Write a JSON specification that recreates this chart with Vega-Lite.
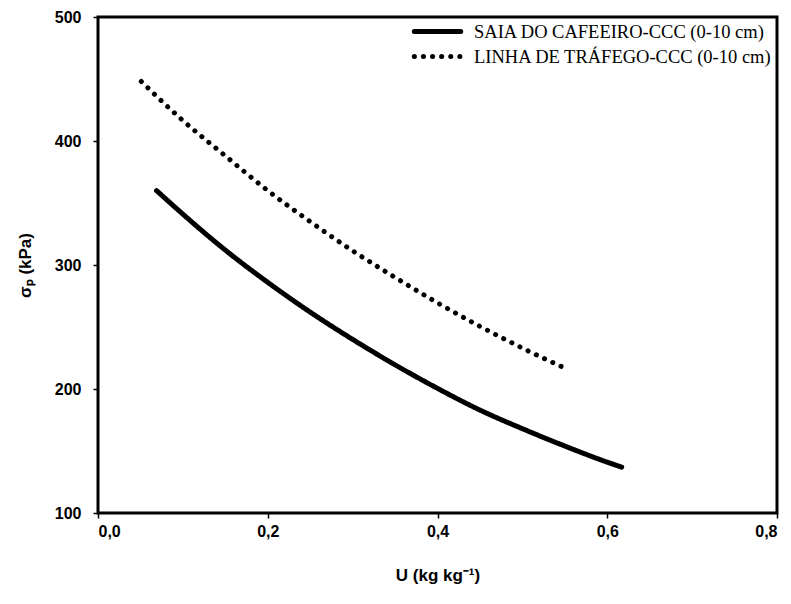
{
  "$schema": "https://vega.github.io/schema/vega-lite/v6.json",
  "width": 679,
  "height": 496,
  "autosize": {"type": "none"},
  "padding": {"left": 98, "top": 17, "right": 14, "bottom": 91},
  "background": "white",
  "config": {
    "locale": {"number": {"decimal": ",", "thousands": ".", "grouping": [3], "currency": ["", ""]}},
    "view": {"stroke": "black", "strokeWidth": 3},
    "axis": {
      "grid": false,
      "domain": false,
      "tickColor": "black",
      "tickSize": 5,
      "tickWidth": 1.5,
      "labelFont": "Liberation Sans",
      "labelFontWeight": "bold",
      "labelFontSize": 16,
      "labelColor": "black",
      "titleFont": "Liberation Sans",
      "titleFontWeight": "bold",
      "titleFontSize": 17,
      "titleColor": "black"
    }
  },
  "data": {
    "values": [
      {"serie": "SAIA DO CAFEEIRO-CCC (0-10 cm)", "U": 0.069, "sigma": 360},
      {"serie": "SAIA DO CAFEEIRO-CCC (0-10 cm)", "U": 0.10, "sigma": 341},
      {"serie": "SAIA DO CAFEEIRO-CCC (0-10 cm)", "U": 0.15, "sigma": 312},
      {"serie": "SAIA DO CAFEEIRO-CCC (0-10 cm)", "U": 0.20, "sigma": 286},
      {"serie": "SAIA DO CAFEEIRO-CCC (0-10 cm)", "U": 0.25, "sigma": 262},
      {"serie": "SAIA DO CAFEEIRO-CCC (0-10 cm)", "U": 0.30, "sigma": 240},
      {"serie": "SAIA DO CAFEEIRO-CCC (0-10 cm)", "U": 0.35, "sigma": 219.5},
      {"serie": "SAIA DO CAFEEIRO-CCC (0-10 cm)", "U": 0.40, "sigma": 200.5},
      {"serie": "SAIA DO CAFEEIRO-CCC (0-10 cm)", "U": 0.45, "sigma": 183},
      {"serie": "SAIA DO CAFEEIRO-CCC (0-10 cm)", "U": 0.50, "sigma": 168},
      {"serie": "SAIA DO CAFEEIRO-CCC (0-10 cm)", "U": 0.55, "sigma": 154},
      {"serie": "SAIA DO CAFEEIRO-CCC (0-10 cm)", "U": 0.60, "sigma": 141},
      {"serie": "SAIA DO CAFEEIRO-CCC (0-10 cm)", "U": 0.617, "sigma": 137},
      {"serie": "LINHA DE TRÁFEGO-CCC (0-10 cm)", "U": 0.051, "sigma": 448},
      {"serie": "LINHA DE TRÁFEGO-CCC (0-10 cm)", "U": 0.10, "sigma": 416.5},
      {"serie": "LINHA DE TRÁFEGO-CCC (0-10 cm)", "U": 0.15, "sigma": 388},
      {"serie": "LINHA DE TRÁFEGO-CCC (0-10 cm)", "U": 0.20, "sigma": 360},
      {"serie": "LINHA DE TRÁFEGO-CCC (0-10 cm)", "U": 0.25, "sigma": 335},
      {"serie": "LINHA DE TRÁFEGO-CCC (0-10 cm)", "U": 0.30, "sigma": 311.5},
      {"serie": "LINHA DE TRÁFEGO-CCC (0-10 cm)", "U": 0.35, "sigma": 290},
      {"serie": "LINHA DE TRÁFEGO-CCC (0-10 cm)", "U": 0.40, "sigma": 269.5},
      {"serie": "LINHA DE TRÁFEGO-CCC (0-10 cm)", "U": 0.45, "sigma": 250.5},
      {"serie": "LINHA DE TRÁFEGO-CCC (0-10 cm)", "U": 0.50, "sigma": 233},
      {"serie": "LINHA DE TRÁFEGO-CCC (0-10 cm)", "U": 0.548, "sigma": 217.5}
    ]
  },
  "mark": {"type": "line", "color": "black", "strokeWidth": 5, "strokeCap": "round", "interpolate": "monotone"},
  "encoding": {
    "x": {
      "field": "U",
      "type": "quantitative",
      "scale": {"domain": [0, 0.8], "nice": false},
      "axis": {"values": [0, 0.2, 0.4, 0.6, 0.8], "format": ".1f", "labelPadding": 5, "title": "U (kg kg⁻¹)", "titlePadding": 28}
    },
    "y": {
      "field": "sigma",
      "type": "quantitative",
      "scale": {"domain": [100, 500], "nice": false, "zero": false},
      "axis": {"values": [100, 200, 300, 400, 500], "labelPadding": 12, "title": "σₚ (kPa)", "titlePadding": 20}
    },
    "strokeDash": {
      "field": "serie",
      "type": "nominal",
      "scale": {
        "domain": ["SAIA DO CAFEEIRO-CCC (0-10 cm)", "LINHA DE TRÁFEGO-CCC (0-10 cm)"],
        "range": [[1, 0], [0.1, 9]]
      },
      "legend": {
        "title": null,
        "orient": "top-right",
        "offset": 2,
        "padding": 2,
        "rowPadding": 4,
        "labelFont": "Liberation Serif",
        "labelFontSize": 18.5,
        "labelColor": "black",
        "labelOffset": 26,
        "symbolType": "M-2.9,0H2.9",
        "symbolSize": 256,
        "symbolStrokeWidth": 5,
        "symbolStrokeColor": "black",
        "labelLimit": 400,
        "encode": {"symbols": {"update": {"strokeCap": {"value": "round"}}}}
      }
    }
  }
}
